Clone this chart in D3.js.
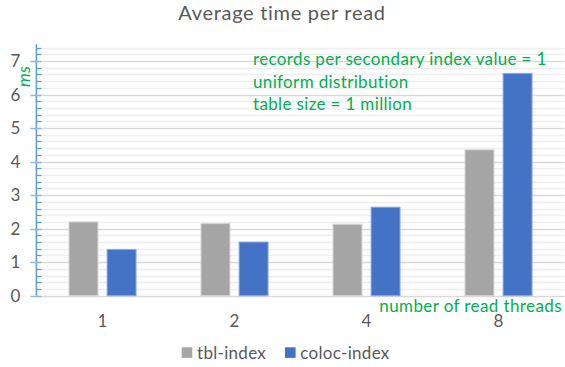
<!DOCTYPE html>
<html><head><meta charset="utf-8">
<script src="https://cdn.jsdelivr.net/npm/d3@7"></script>
<style>body{margin:0;background:#fff}svg{display:block}text{font-family:Lato,"Open Sans",sans-serif}</style>
</head><body><svg id="c" width="565" height="367"></svg>
<script>
const categories = ["1","2","4","8"];
const seriesNames = ["tbl-index","coloc-index"];
const tblIndex = [2.20, 2.15, 2.13, 4.35];
const colocIndex = [1.38, 1.60, 2.64, 6.63];
const yMajorTicks = [0,1,2,3,4,5,6,7];
const titleText = "Average time per read";
const yLabel = "ms";
const xLabel = "number of read threads";
const notes = ["records per secondary index value = 1","uniform distribution","table size = 1 million"];

const colors = {"tbl-index":"#A5A5A5","coloc-index":"#4472C4"};
const borders = {"tbl-index":"#d4d4d4","coloc-index":"#8eaadc"};
const values = {"tbl-index":tblIndex,"coloc-index":colocIndex};

const svg = d3.select("#c");
const left = 36.4, right = 564.4, y0 = 295.7, yTop = 44.2;
const x0 = d3.scaleBand().domain(categories).range([left,right]);
const bw = x0.bandwidth();
const x1 = d3.scaleBand().domain(seriesNames).range([bw*0.247,bw*0.755]).paddingInner(0.24);
const y = d3.scaleLinear().domain([0,7.5]).range([y0,yTop]);

// gridlines
const minor = d3.range(0,7.45,0.2).filter(v=>Math.abs(v-Math.round(v))>1e-6);
svg.append("g").selectAll("line").data(minor).join("line")
  .attr("x1",left).attr("x2",right).attr("y1",d=>Math.round(y(d))+0.5).attr("y2",d=>Math.round(y(d))+0.5)
  .attr("stroke","#eeeeee").attr("stroke-width",1.4);
svg.append("g").selectAll("line").data(yMajorTicks).join("line")
  .attr("x1",left).attr("x2",right).attr("y1",d=>Math.round(y(d))+0.5).attr("y2",d=>Math.round(y(d))+0.5)
  .attr("stroke","#d9d9d9").attr("stroke-width",1.4);

// bars
const g = svg.append("g");
categories.forEach((c,i)=>{
  seriesNames.forEach(s=>{
    const v = values[s][i];
    g.append("rect").attr("x",x0(c)+x1(s)).attr("width",x1.bandwidth())
      .attr("y",y(v)).attr("height",y0-y(v))
      .attr("fill",colors[s]).attr("stroke",borders[s]).attr("stroke-width",1);
  });
});

// y axis
const yAxis = svg.append("g").attr("transform",`translate(${left},0)`);
yAxis.append("line").attr("x1",0).attr("x2",0).attr("y1",yTop).attr("y2",y0).attr("stroke","#5B9BD5").attr("stroke-width",1.5);
yAxis.selectAll(".mn").data(minor).join("line").attr("class","mn")
  .attr("x1",0).attr("x2",5).attr("y1",d=>Math.round(y(d))+0.5).attr("y2",d=>Math.round(y(d))+0.5)
  .attr("stroke","#5B9BD5").attr("stroke-width",1.2);
yAxis.selectAll(".mj").data(yMajorTicks).join("line").attr("class","mj")
  .attr("x1",-6).attr("x2",5).attr("y1",d=>Math.round(y(d))+0.5).attr("y2",d=>Math.round(y(d))+0.5)
  .attr("stroke","#8fbbe3").attr("stroke-width",1.5);
yAxis.selectAll(".tl").data(yMajorTicks).join("text").attr("class","tl")
  .attr("x",-16).attr("y",d=>y(d)).attr("dy","0.36em").attr("text-anchor","end")
  .attr("font-size",17).attr("fill","#595959").text(d=>d);

// x labels
const xAxis = d3.axisBottom(x0).tickSize(0).tickPadding(0);
const xg = svg.append("g").attr("transform",`translate(0,${y0})`).call(xAxis);
xg.select(".domain").remove();
xg.selectAll("text").attr("y",31.5).attr("dy",0).attr("font-size",17).attr("fill","#595959").attr("font-family","Lato");

// title
svg.append("text").attr("x",282).attr("y",20).attr("text-anchor","middle").attr("font-size",20)
  .attr("letter-spacing",0.7).attr("fill","#595959").text(titleText);

// y label
svg.append("text").attr("transform","translate(30,76.5) rotate(-90)").attr("text-anchor","middle")
  .attr("font-size",17.5).attr("font-style","italic").attr("fill","#00B050").text(yLabel);

// notes
svg.append("g").selectAll("text").data(notes).join("text")
  .attr("x",253).attr("y",(d,i)=>65+i*22.7).attr("font-size",17).attr("letter-spacing",0.35)
  .attr("fill","#00B050").text(d=>d);

// x label
svg.append("text").attr("x",562).attr("y",312).attr("text-anchor","end").attr("font-size",17)
  .attr("letter-spacing",0.4).attr("fill","#00B050").text(xLabel);

// legend
const lg = svg.append("g");
const legX = [181.7, 285];
seriesNames.forEach((s,i)=>{
  lg.append("rect").attr("x",legX[i]).attr("y",347.3).attr("width",10.6).attr("height",10.6).attr("fill",colors[s]);
  lg.append("text").attr("x",legX[i]+15.3).attr("y",359).attr("font-size",17).attr("letter-spacing",0.3)
    .attr("fill","#595959").text(s);
});
</script></body></html>
